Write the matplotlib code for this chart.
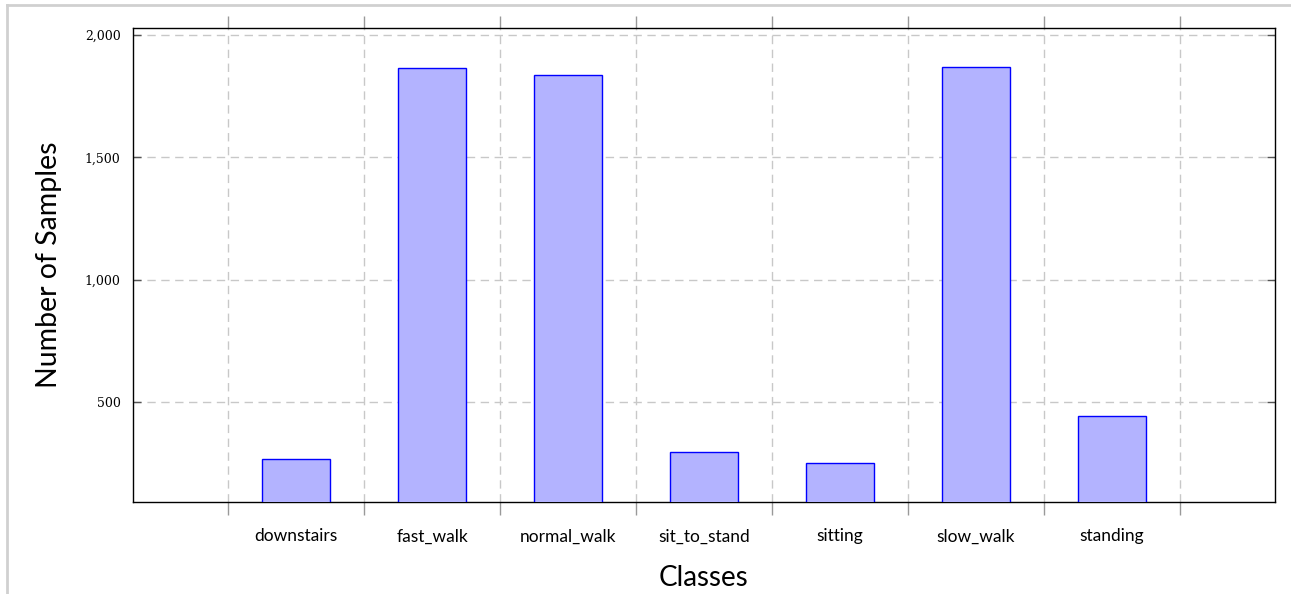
import matplotlib.pyplot as plt
from matplotlib.lines import Line2D
from matplotlib.ticker import FixedLocator, FuncFormatter
import numpy as np

classes = ['downstairs', 'fast_walk', 'normal_walk', 'sit_to_stand', 'sitting', 'slow_walk', 'standing']
counts = [268, 1865, 1837, 296, 251, 1869, 442]
y_ticks = [500, 1000, 1500, 2000]

fig = plt.figure(figsize=(12.91, 5.94), dpi=100)
ax = fig.add_axes([133 / 1291, 1 - 502 / 594, (1275 - 133) / 1291, (502 - 28) / 594])

x = np.arange(len(classes))
ax.bar(x, counts, width=0.5, color=(179 / 255, 179 / 255, 1.0), edgecolor='blue', linewidth=1.0, zorder=3)

ax.set_xlim(-1.2, 7.2)
ax.set_ylim(91, 2029)

# labels at category centres, ticks/grid between them
ax.set_xticks(x)
ax.set_xticklabels(classes, fontfamily='Lato', fontsize=12.5)
ax.xaxis.set_minor_locator(FixedLocator(np.arange(-0.5, 7.0, 1.0)))
ax.tick_params(axis='x', which='major', length=0, pad=19)
ax.tick_params(axis='x', which='minor', length=9, width=1.0, color='#999999',
               direction='out', top=True, bottom=True)
ax.grid(True, axis='x', which='minor', color='#c8c8c8', linestyle=(0, (6, 4)), linewidth=1.0, zorder=0)

ax.set_yticks(y_ticks)
ax.yaxis.set_major_formatter(FuncFormatter(lambda v, p: f'{int(v):,}'))
for lab in ax.get_yticklabels():
    lab.set_fontfamily('DejaVu Serif')
    lab.set_fontsize(9)
ax.tick_params(axis='y', which='major', direction='in', length=6, width=1.0, color='#555555',
               left=True, right=True, pad=9)
ax.grid(True, axis='y', which='major', color='#c8c8c8', linestyle=(0, (6, 4)), linewidth=1.0, zorder=0)

for s in ax.spines.values():
    s.set_linewidth(1.0)
    s.set_color('black')

ax.set_xlabel('Classes', fontfamily='Lato', fontsize=20, labelpad=15)
ax.set_ylabel('Number of Samples', fontfamily='Lato', fontsize=20.5, labelpad=16)

# light frame from the screenshot
fig.add_artist(Line2D([7 / 1291, 7 / 1291], [0, 1 - 5 / 594], color='#d0d0d0', linewidth=2))
fig.add_artist(Line2D([7 / 1291, 1], [1 - 5 / 594, 1 - 5 / 594], color='#d0d0d0', linewidth=2))

plt.savefig('out.png', dpi=100)
plt.close()
